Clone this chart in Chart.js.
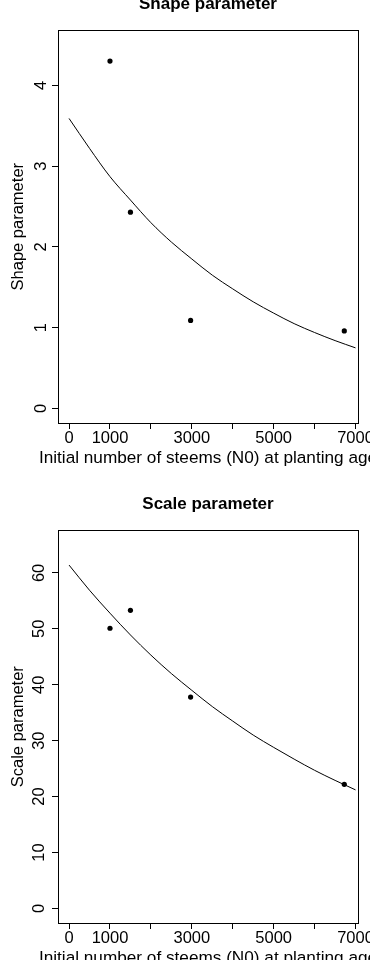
<!DOCTYPE html>
<html>
<head>
<meta charset="utf-8">
<script src="https://cdn.jsdelivr.net/npm/chart.js@4/dist/chart.umd.min.js"></script>
<style>
  html, body { margin: 0; padding: 0; background: #fff; }
  body { width: 370px; height: 960px; overflow: hidden; position: relative; }
  canvas { position: absolute; left: 0; }
  #shapeChart { top: -20px; }
  #scaleChart { top: 480px; }
</style>
</head>
<body>
<canvas id="shapeChart" width="370" height="500"></canvas>
<canvas id="scaleChart" width="370" height="500"></canvas>
<script>
// observed values (initial number of stems at planting age)
const stems = [1000, 1500, 2970, 6725];
const shapeObs = [4.30, 2.43, 1.09, 0.96];
const scaleObs = [50.1, 53.3, 37.8, 22.2];

// fitted curves, every 500 stems
const curveStems = [0, 500, 1000, 1500, 2000, 2500, 3000, 3500, 4000, 4500, 5000, 5500, 6000, 6500, 7000];
const shapeFit = [3.59, 3.22, 2.87, 2.58, 2.30, 2.06, 1.85, 1.65, 1.48, 1.32, 1.18, 1.05, 0.94, 0.84, 0.75];
const scaleFit = [61.4, 56.9, 52.8, 48.9, 45.3, 42.0, 39.0, 36.1, 33.5, 31.0, 28.8, 26.7, 24.7, 22.9, 21.2];

// axes
const xTicks = [0, 1000, 2000, 3000, 4000, 5000, 6000, 7000];
const xTickLabels = [0, 1000, 3000, 5000, 7000];
const shapeTicks = [0, 1, 2, 3, 4];
const scaleTicks = [0, 10, 20, 30, 40, 50, 60];
const xTitle = "Initial number of steems (N0) at planting age";

Chart.defaults.font.family = "'Liberation Sans', Arial, sans-serif";
Chart.defaults.color = "#000";

const framePlugin = {
    id: "frame",
    afterDraw(chart, args, opts) {
        const ctx = chart.ctx;
        const a = chart.chartArea;
        ctx.save();
        ctx.strokeStyle = "#000";
        ctx.lineWidth = 1;
        ctx.strokeRect(Math.round(a.left) + 0.5, Math.round(a.top) + 0.5,
            Math.round(a.right - a.left), Math.round(a.bottom - a.top));
        ctx.fillStyle = "#000";
        ctx.font = "17.2px 'Liberation Sans', Arial, sans-serif";
        ctx.textAlign = "center";
        ctx.textBaseline = "middle";
        ctx.fillText(opts.xTitle, (a.left + a.right) / 2, a.bottom + 35);
        ctx.restore();
    }
};

function makeChart(id, title, obs, fit, yTicks, yMin, yMax, yTitle, yPad) {
    const points = stems.map((x, i) => ({x: x, y: obs[i]}));
    const curve = curveStems.map((x, i) => ({x: x, y: fit[i]}));

    return new Chart(document.getElementById(id), {
        type: "scatter",
        data: {
            datasets: [
                {
                    data: curve,
                    showLine: true,
                    borderColor: "#000",
                    borderWidth: 1,
                    pointRadius: 0,
                    cubicInterpolationMode: "monotone"
                },
                {
                    data: points,
                    backgroundColor: "#000",
                    borderColor: "#000",
                    pointRadius: 2.6,
                    borderWidth: 0
                }
            ]
        },
        options: {
            responsive: false,
            animation: false,
            devicePixelRatio: 1,
            layout: {padding: {left: 0, right: 12, top: 0, bottom: 0}},
            plugins: {
                legend: {display: false},
                tooltip: {enabled: false},
                title: {
                    display: true,
                    fullSize: false,
                    text: title,
                    color: "#000",
                    font: {size: 17, weight: "bold"},
                    padding: {top: 14, bottom: 16}
                },
                frame: {xTitle: xTitle}
            },
            scales: {
                x: {
                    type: "linear",
                    min: -270,
                    max: 7060,
                    afterBuildTicks: s => { s.ticks = xTicks.map(v => ({value: v})); },
                    afterFit: s => { s.height = 57; s.paddingLeft = 0; s.paddingRight = 0; },
                    border: {display: false},
                    grid: {display: true, drawOnChartArea: false, drawTicks: true, tickLength: 6, color: "#000"},
                    ticks: {
                        autoSkip: false,
                        maxRotation: 0,
                        padding: 0,
                        color: "#000",
                        font: {size: 16.5},
                        callback: v => xTickLabels.includes(v) ? String(v) : ""
                    }
                },
                y: {
                    type: "linear",
                    min: yMin,
                    max: yMax,
                    afterBuildTicks: s => { s.ticks = yTicks.map(v => ({value: v})); },
                    afterFit: s => { s.width = 58; s.paddingTop = 0; s.paddingBottom = 0; },
                    border: {display: false},
                    grid: {display: true, drawOnChartArea: false, drawTicks: true, tickLength: 6, color: "#000"},
                    title: {
                        display: true,
                        text: yTitle,
                        color: "#000",
                        font: {size: 16.5},
                        padding: {top: 9, bottom: 0}
                    },
                    ticks: {
                        autoSkip: false,
                        minRotation: 90,
                        maxRotation: 90,
                        crossAlign: "center",
                        padding: yPad,
                        color: "#000",
                        font: {size: 16.5},
                        callback: v => String(v)
                    }
                }
            }
        },
        plugins: [framePlugin]
    });
}

makeChart("shapeChart", "Shape parameter", shapeObs, shapeFit, shapeTicks, -0.18, 4.68, "Shape parameter", 6);
makeChart("scaleChart", "Scale parameter", scaleObs, scaleFit, scaleTicks, -2.6, 67.6, "Scale parameter", 3);
</script>
</body>
</html>
